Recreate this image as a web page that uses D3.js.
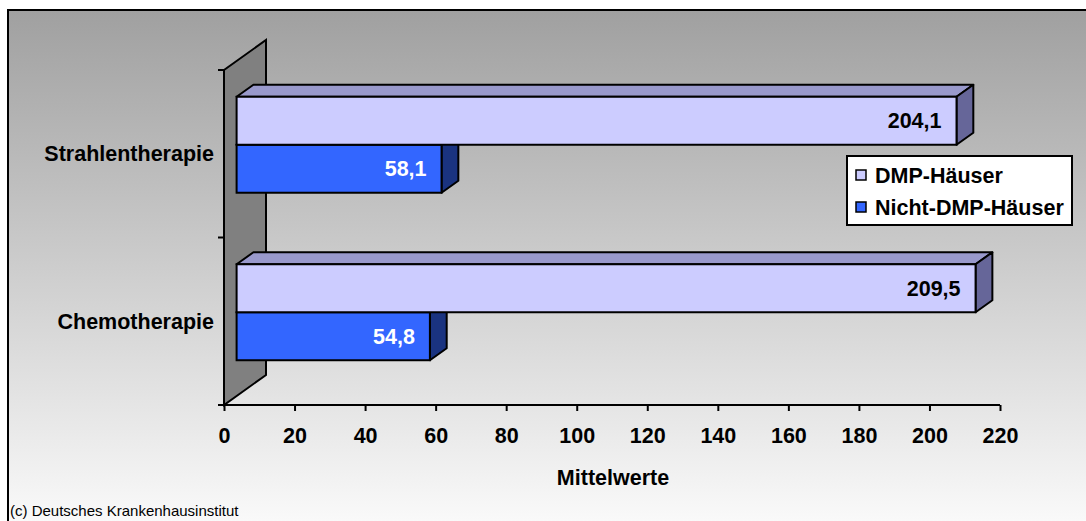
<!DOCTYPE html>
<html>
<head>
<meta charset="utf-8">
<script src="https://cdn.jsdelivr.net/npm/d3@7/dist/d3.min.js"></script>
<style>
  html, body { margin: 0; padding: 0; background: #ffffff; }
  svg { display: block; }
  text { font-family: "Liberation Sans", Arial, sans-serif; }
</style>
</head>
<body>
<svg id="chart" width="1086" height="521"></svg>
<script>
// Chart data
const categories = ["Strahlentherapie", "Chemotherapie"];
const seriesNames = ["DMP-Häuser", "Nicht-DMP-Häuser"];
const dmpValues = [204.1, 209.5];
const nichtDmpValues = [58.1, 54.8];
const xTickValues = [0, 20, 40, 60, 80, 100, 120, 140, 160, 180, 200, 220];
const axisTitle = "Mittelwerte";
const sourceNote = "(c) Deutsches Krankenhausinstitut";

const seriesValues = { "DMP-Häuser": dmpValues, "Nicht-DMP-Häuser": nichtDmpValues };
const seriesStyle = {
  "DMP-Häuser":       { front: "#ccccff", top: "#9999cc", side: "#666699", label: "#000000" },
  "Nicht-DMP-Häuser": { front: "#3366ff", top: "#2850c8", side: "#1a3380", label: "#ffffff" }
};

const FS = 21.5; // bold label size

const svg = d3.select("#chart");
const W = 1086, H = 521;

// Background with vertical gradient inside the frame
const defs = svg.append("defs");
const grad = defs.append("linearGradient").attr("id", "bg").attr("x1", 0).attr("y1", 0).attr("x2", 0).attr("y2", 1);
grad.append("stop").attr("offset", "0%").attr("stop-color", "#a0a0a0");
grad.append("stop").attr("offset", "100%").attr("stop-color", "#fbfbfb");

svg.append("rect").attr("x", 8).attr("y", 10).attr("width", W).attr("height", H)
  .attr("fill", "url(#bg)").attr("stroke", "#000").attr("stroke-width", 2);

// Scales
const x = d3.scaleLinear().domain([0, 220]).range([224, 1000]);
const y = d3.scaleBand().domain(categories).range([70, 405]).padding(0);
const groupH = y.bandwidth() * 0.573;
const yInner = d3.scaleBand().domain(seriesNames)
  .range([(y.bandwidth() - groupH) / 2, (y.bandwidth() + groupH) / 2]);

// 3D depth projection
const depth = { dx: 42, dy: -30 };
const frontF = 0.3, backF = 0.7;
const fx = depth.dx * frontF, fy = depth.dy * frontF;
const bx = depth.dx * (backF - frontF), by = depth.dy * (backF - frontF);

// Side wall
const x0 = x(0), yTop = y.range()[0], yBot = y.range()[1];
svg.append("polygon")
  .attr("points", [[x0, yTop], [x0 + depth.dx, yTop + depth.dy], [x0 + depth.dx, yBot + depth.dy], [x0, yBot]].map(p => p.join(",")).join(" "))
  .attr("fill", "#808080").attr("stroke", "#000").attr("stroke-width", 2).attr("stroke-linejoin", "miter");

// Category axis ticks on the wall edge
const catBounds = [yTop].concat(categories.map(c => y(c) + y.bandwidth()));
svg.append("g").selectAll("line").data(catBounds).join("line")
  .attr("x1", x0 - 6).attr("x2", x0).attr("y1", d => d).attr("y2", d => d)
  .attr("stroke", "#000").attr("stroke-width", 2);
svg.append("line").attr("x1", x0).attr("x2", x0).attr("y1", yTop).attr("y2", yBot)
  .attr("stroke", "#000").attr("stroke-width", 2);

// Value axis
const xAxis = d3.axisBottom(x).tickValues(xTickValues).tickSize(6).tickPadding(17)
  .tickFormat(d3.format("d"));
const gx = svg.append("g").attr("transform", `translate(0,${yBot})`).call(xAxis);
gx.select(".domain").attr("stroke", "#000").attr("stroke-width", 2).attr("d", `M${x(0)},0H${x(220)}`);
gx.selectAll(".tick line").attr("stroke", "#000").attr("stroke-width", 2);
gx.selectAll(".tick text").attr("fill", "#000").attr("font-size", FS).attr("font-weight", "bold")
  .attr("font-family", "Liberation Sans, Arial, sans-serif").attr("dy", "0.71em");

// Category labels
svg.append("g").selectAll("text").data(categories).join("text")
  .attr("x", 214).attr("y", d => y(d) + y.bandwidth() / 2 + 7.5)
  .attr("text-anchor", "end").attr("font-size", FS).attr("font-weight", "bold").attr("fill", "#000")
  .text(d => d);

// Bars (lower series first so the upper bar covers its top face)
const barsG = svg.append("g");
const drawOrder = seriesNames.slice().reverse();
categories.forEach((cat, ci) => {
  drawOrder.forEach(s => {
    const v = seriesValues[s][ci];
    const st = seriesStyle[s];
    const left = x(0) + fx, right = x(v) + fx;
    const t = y(cat) + yInner(s) + fy, b = t + yInner.bandwidth();
    const g = barsG.append("g");
    const pts = a => a.map(p => p.join(",")).join(" ");
    g.append("polygon").attr("points", pts([[left, t], [right, t], [right + bx, t + by], [left + bx, t + by]]))
      .attr("fill", st.top).attr("stroke", "#000").attr("stroke-width", 2).attr("stroke-linejoin", "round");
    g.append("polygon").attr("points", pts([[right, t], [right + bx, t + by], [right + bx, b + by], [right, b]]))
      .attr("fill", st.side).attr("stroke", "#000").attr("stroke-width", 2).attr("stroke-linejoin", "round");
    g.append("rect").attr("x", left).attr("y", t).attr("width", right - left).attr("height", b - t)
      .attr("fill", st.front).attr("stroke", "#000").attr("stroke-width", 2);
    g.append("text").attr("x", right - 15).attr("y", (t + b) / 2 + 7.5)
      .attr("text-anchor", "end").attr("font-size", FS).attr("font-weight", "bold").attr("fill", st.label)
      .text(d3.format(".1f")(v).replace(".", ","));
  });
});

// Axis title
svg.append("text").attr("x", 613).attr("y", 485).attr("text-anchor", "middle")
  .attr("font-size", FS).attr("font-weight", "bold").attr("fill", "#000").text(axisTitle);

// Legend
const lg = svg.append("g").attr("transform", "translate(847,156)");
lg.append("rect").attr("width", 225).attr("height", 69).attr("fill", "#fff").attr("stroke", "#000").attr("stroke-width", 2);
seriesNames.forEach((s, i) => {
  const row = lg.append("g").attr("transform", `translate(0,${14 + i * 32})`);
  row.append("rect").attr("x", 9).attr("y", 0).attr("width", 10).attr("height", 10)
    .attr("fill", seriesStyle[s].front).attr("stroke", "#000").attr("stroke-width", 1.5);
  row.append("text").attr("x", 28).attr("y", 13).attr("font-size", FS).attr("font-weight", "bold")
    .attr("fill", "#000").text(s);
});

// Source note
svg.append("text").attr("x", 10).attr("y", 516).attr("font-size", 15).attr("fill", "#000").text(sourceNote);
</script>
</body>
</html>
